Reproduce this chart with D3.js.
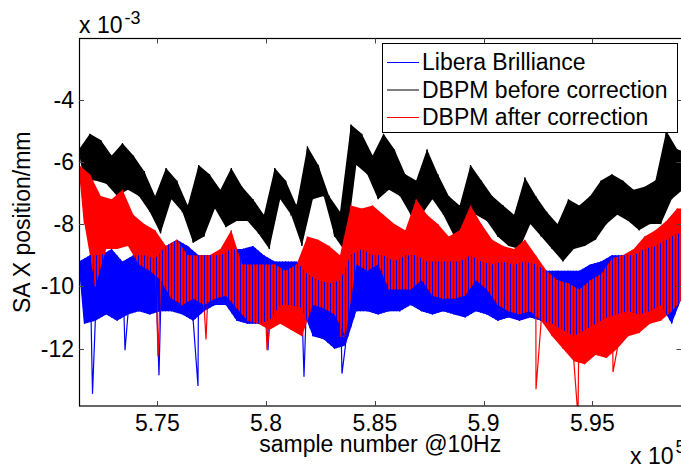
<!DOCTYPE html>
<html>
<head>
<meta charset="utf-8">
<script src="https://cdn.jsdelivr.net/npm/d3@7"></script>
<style>
  body { margin: 0; background: #fff; }
  text { font-family: "Liberation Sans", Arial, sans-serif; fill: #000; }
</style>
</head>
<body>
<script>
// axis ticks
var xTicks = [575000, 580000, 585000, 590000, 595000];
var xTickLabels = ['5.75', '5.8', '5.85', '5.9', '5.95'];
var yTicks = [-4, -6, -8, -10, -12];
var yTickLabels = ['-4', '-6', '-8', '-10', '-12'];

var seriesNames = ['Libera Brilliance', 'DBPM before correction', 'DBPM after correction'];
var seriesColors = ['#0000ff', '#000000', '#ff0000'];

// every series is read as a noise band (top / bottom, x 1e-3 mm) every 500 samples from 571400
var sampleStart = 571400, sampleStep = 500;

var liberaTop = [-9.2,-9.0,-9.0,-8.8,-9.2,-9.0,-9.0,-9.1,-8.7,-8.5,-8.7,-9.0,-9.0,-9.0,-8.8,-8.8,-8.7,-9.0,-9.2,-9.2,-9.2,-9.6,-9.8,-9.9,-9.8,-9.0,-8.8,-9.0,-9.0,-9.2,-9.0,-9.0,-9.2,-9.2,-9.2,-9.2,-9.0,-9.2,-9.3,-9.2,-9.3,-9.2,-9.3,-9.5,-9.5,-9.5,-9.5,-9.3,-9.2,-9.0,-9.0,-9.0,-8.8,-8.7,-8.5,-8.3,-8.3];
var liberaBottom = [-11.2,-11.1,-10.9,-11.1,-10.9,-10.8,-10.9,-10.8,-10.8,-10.9,-11.1,-10.8,-10.6,-10.6,-11.1,-11.2,-11.2,-11.1,-10.6,-10.6,-10.7,-11.6,-11.7,-12.0,-11.9,-10.8,-10.8,-10.9,-10.8,-10.8,-10.6,-10.8,-10.9,-10.8,-10.9,-11.0,-10.8,-10.9,-11.1,-11.0,-11.1,-11.0,-11.1,-11.2,-11.4,-11.6,-11.4,-11.2,-11.0,-10.9,-10.8,-10.9,-10.8,-10.6,-11.2,-10.3,-10.3];
var liberaSpikeSamples = [572021, 573515, 575078, 576871, 580089, 581744, 583491];
var liberaSpikeValues = [-13.45, -12.05, -12.85, -13.2, -12.05, -12.9, -12.8];

var beforeTop = [-5.6,-5.1,-5.3,-5.8,-5.4,-5.8,-6.3,-7.1,-6.2,-6.6,-7.4,-6.1,-6.4,-6.9,-6.2,-6.8,-7.2,-7.7,-6.2,-6.6,-7.4,-5.5,-6.1,-7.1,-7.6,-4.8,-5.1,-5.8,-5.1,-5.6,-6.4,-6.6,-5.6,-6.4,-7.1,-7.4,-6.1,-6.6,-7.1,-7.4,-7.7,-6.5,-7.1,-7.6,-8.0,-7.2,-7.4,-7.1,-6.6,-6.4,-6.6,-6.9,-6.8,-6.6,-5.0,-5.6,-5.7];
var beforeBottom = [-6.6,-6.6,-6.7,-7.1,-6.9,-7.1,-7.6,-8.3,-7.2,-7.6,-8.6,-8.4,-7.5,-8.1,-7.9,-7.9,-8.3,-8.8,-7.2,-7.7,-8.7,-7.2,-7.1,-8.4,-8.9,-6.1,-6.4,-7.2,-6.9,-7.1,-7.7,-7.7,-7.2,-7.7,-8.4,-8.7,-7.7,-7.9,-8.4,-8.7,-8.8,-8.0,-8.4,-8.8,-9.2,-8.8,-8.7,-8.5,-8.0,-7.7,-7.9,-8.2,-8.0,-8.0,-7.2,-6.9,-7.0];
var beforeSpikeSamples = [];
var beforeSpikeValues = [];

var afterTop = [-6.1,-6.4,-7.1,-7.2,-6.9,-7.7,-8.0,-8.2,-8.7,-8.5,-9.0,-9.0,-9.0,-8.8,-8.2,-9.3,-9.3,-9.3,-9.3,-9.5,-9.3,-8.4,-8.5,-8.7,-9.0,-7.4,-7.5,-7.4,-7.7,-8.0,-8.2,-7.2,-7.7,-8.0,-8.4,-8.2,-7.4,-8.0,-8.5,-8.7,-8.8,-8.5,-9.0,-9.5,-9.8,-9.9,-10.1,-9.8,-9.6,-9.1,-9.0,-8.8,-8.4,-8.2,-7.9,-7.5,-7.5];
var afterBottom = [-8.0,-10.0,-8.8,-8.8,-8.7,-9.3,-9.5,-9.8,-10.4,-10.6,-10.4,-10.6,-10.4,-10.3,-10.7,-11.1,-11.2,-11.4,-11.2,-11.4,-11.6,-10.6,-10.7,-10.9,-11.6,-9.3,-9.5,-9.3,-10.1,-10.1,-10.1,-9.8,-10.3,-10.4,-10.4,-10.3,-9.8,-10.1,-10.6,-10.8,-10.9,-10.8,-11.1,-11.6,-12.0,-12.4,-12.5,-12.2,-12.3,-12.0,-11.6,-11.5,-11.2,-11.1,-10.8,-10.4,-10.4];
var afterSpikeSamples = [575032, 577239, 580043, 583432, 592411, 594342, 595951];
var afterSpikeValues = [-12.25, -11.7, -12.05, -11.6, -13.3, -14.2, -12.75];

var width = 681, height = 468;
var plotLeft = 79, plotRight = 681.5, plotTop = 38.5, plotBottom = 406;

var x = d3.scaleLinear().domain([571400, 599100]).range([plotLeft, plotRight]);
var y = d3.scaleLinear().domain([-13.84, -2.04]).range([plotBottom, plotTop]);

var svg = d3.select('body')
  .append('svg')
    .attr('width', width)
    .attr('height', height);

var defs = svg.append('defs');
defs.append('clipPath')
    .attr('id', 'plot')
  .append('rect')
    .attr('x', plotLeft)
    .attr('y', plotTop)
    .attr('width', plotRight - plotLeft)
    .attr('height', plotBottom - plotTop);

// thin vertical blue streaks, so the Libera trace shows through where the red one covers it
defs.append('pattern')
    .attr('id', 'blueStreaks')
    .attr('patternUnits', 'userSpaceOnUse')
    .attr('width', 3)
    .attr('height', 8)
  .append('rect')
    .attr('width', 1)
    .attr('height', 8)
    .attr('fill', seriesColors[0]);

function makeBand(tops, bottoms, spikeS, spikeV, color) {
  var rows = tops.map(function(t, i) {
    return {s: sampleStart + i * sampleStep, t: t, b: bottoms[i]};
  });
  var pts = [];
  rows.forEach(function(r) {
    pts.push([r.s, r.t]);
    pts.push([r.s + sampleStep / 2, r.b]);
  });
  spikeS.forEach(function(s, i) {
    pts.push([s, spikeV[i]]);
  });
  pts.sort(function(a, b) { return a[0] - b[0]; });
  return {rows: rows, pts: pts, color: color};
}

var bands = [
  makeBand(liberaTop, liberaBottom, liberaSpikeSamples, liberaSpikeValues, seriesColors[0]),
  makeBand(beforeTop, beforeBottom, beforeSpikeSamples, beforeSpikeValues, seriesColors[1]),
  makeBand(afterTop, afterBottom, afterSpikeSamples, afterSpikeValues, seriesColors[2])
];

var area = d3.area()
  .x1(function(d) { return x(d.s); })
  .y1(function(d) { return y(d.t); })
  .x0(function(d) { return x(d.s + sampleStep / 2); })
  .y0(function(d) { return y(d.b); });

var line = d3.line()
  .x(function(d) { return x(d[0]); })
  .y(function(d) { return y(d[1]); });

var plot = svg.append('g').attr('clip-path', 'url(#plot)');

// each series: filled band plus its zigzag trace, in plot order
var band = plot.selectAll('.band')
    .data(bands)
    .enter()
  .append('g')
    .attr('class', 'band');

band.append('path')
  .attr('d', function(d) { return area(d.rows); })
  .attr('fill', function(d) { return d.color; })
  .attr('stroke', 'none');

band.append('path')
  .attr('d', function(d) { return line(d.pts); })
  .attr('fill', 'none')
  .attr('stroke', function(d) { return d.color; })
  .attr('stroke-width', 1.2);

plot.append('path')
  .attr('d', area(bands[0].rows))
  .attr('fill', 'url(#blueStreaks)')
  .attr('stroke', 'none');

// axes box and inward ticks on all sides
var axisG = svg.append('g').attr('fill', 'none');
axisG.append('rect')
  .attr('x', plotLeft + 0.5)
  .attr('y', plotTop)
  .attr('width', plotRight - plotLeft)
  .attr('height', plotBottom - plotTop)
  .attr('stroke', '#000')
  .attr('stroke-width', 1.2);

xTicks.forEach(function(t) {
  var px = Math.round(x(t)) + 0.5;
  axisG.append('line').attr('x1', px).attr('x2', px).attr('y1', plotBottom).attr('y2', plotBottom - 5).attr('stroke', '#444');
  axisG.append('line').attr('x1', px).attr('x2', px).attr('y1', plotTop).attr('y2', plotTop + 5).attr('stroke', '#444');
});
yTicks.forEach(function(t) {
  var py = Math.round(y(t)) + 0.5;
  axisG.append('line').attr('x1', plotLeft).attr('x2', plotLeft + 5).attr('y1', py).attr('y2', py).attr('stroke', '#444');
  axisG.append('line').attr('x1', plotRight).attr('x2', plotRight - 5).attr('y1', py).attr('y2', py).attr('stroke', '#444');
});

svg.selectAll('.xlab')
    .data(xTicks)
    .enter()
  .append('text')
    .attr('class', 'xlab')
    .attr('x', function(d) { return x(d); })
    .attr('y', 431)
    .attr('text-anchor', 'middle')
    .attr('font-size', 23)
    .text(function(d, i) { return xTickLabels[i]; });

svg.selectAll('.ylab')
    .data(yTicks)
    .enter()
  .append('text')
    .attr('class', 'ylab')
    .attr('x', 74)
    .attr('y', function(d) { return y(d) + 8; })
    .attr('text-anchor', 'end')
    .attr('font-size', 23)
    .text(function(d, i) { return yTickLabels[i]; });

svg.append('text')
  .attr('x', (plotLeft + plotRight) / 2)
  .attr('y', 452)
  .attr('text-anchor', 'middle')
  .attr('font-size', 23)
  .text('sample number @10Hz');

svg.append('text')
  .attr('transform', 'translate(30,' + ((plotTop + plotBottom) / 2) + ') rotate(-90)')
  .attr('text-anchor', 'middle')
  .attr('font-size', 23)
  .text('SA X position/mm');

// exponent labels
var yExp = svg.append('text').attr('x', 79).attr('y', 33).attr('font-size', 23);
yExp.append('tspan').text('x 10');
yExp.append('tspan').attr('font-size', 18).attr('dy', -9).attr('dx', 2).text('-3');

var xExp = svg.append('text').attr('x', 630).attr('y', 464).attr('font-size', 23);
xExp.append('tspan').text('x 10');
xExp.append('tspan').attr('font-size', 18).attr('dy', -11).attr('dx', 2).text('5');

// legend
var legend = svg.append('g').attr('transform', 'translate(382,43)');
legend.append('rect')
  .attr('x', 0.5)
  .attr('y', 0.5)
  .attr('width', 295)
  .attr('height', 89)
  .attr('fill', '#fff')
  .attr('stroke', '#000');

var entry = legend.selectAll('.entry')
    .data(seriesNames)
    .enter()
  .append('g')
    .attr('class', 'entry')
    .attr('transform', function(d, i) { return 'translate(0,' + (19 + i * 27.5) + ')'; });

entry.append('line')
  .attr('x1', 5)
  .attr('x2', 37)
  .attr('y1', 0.5)
  .attr('y2', 0.5)
  .attr('stroke', function(d) { return seriesColors[seriesNames.indexOf(d)]; });

entry.append('text')
  .attr('x', 40)
  .attr('y', 8)
  .attr('font-size', 23)
  .text(function(d) { return d; });
</script>
</body>
</html>
